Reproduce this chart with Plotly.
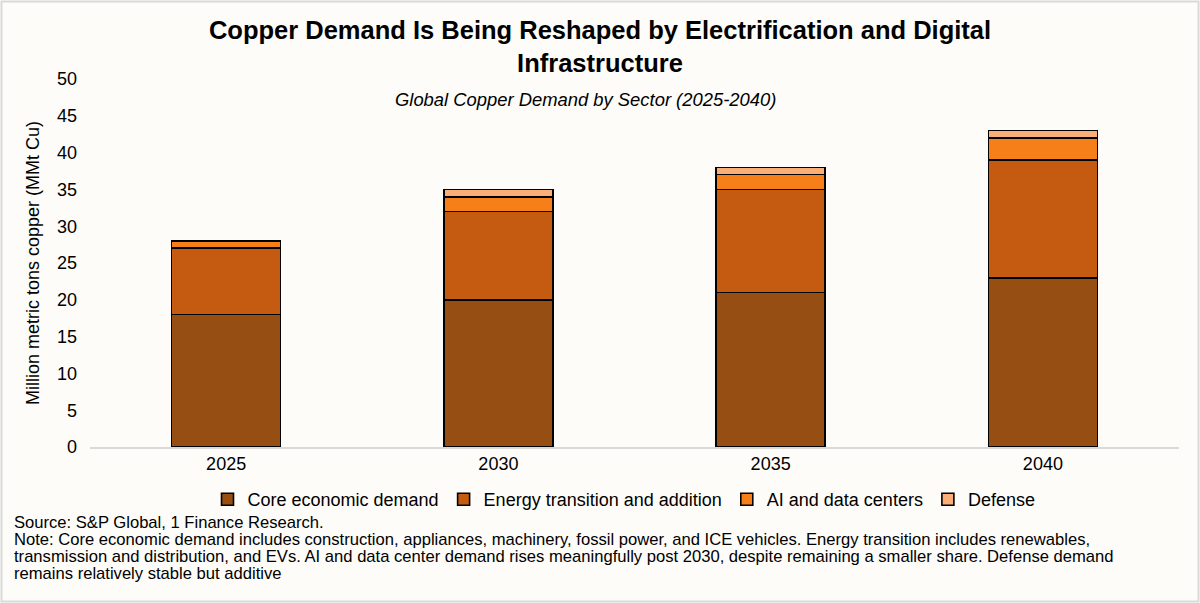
import plotly.graph_objects as go

YEARS = ["2025", "2030", "2035", "2040"]
CORE = [18, 20, 21, 23]
ENERGY = [9, 12, 14, 16]
AI_DC = [1, 2, 2, 3]
DEFENSE = [0, 1, 1, 1]

SERIES = [
    ("Core economic demand", CORE, "#974E13"),
    ("Energy transition and addition", ENERGY, "#C55A11"),
    ("AI and data centers", AI_DC, "#F77F1A"),
    ("Defense", DEFENSE, "#FBAE78"),
]

NOTE_LINES = [
    "Source: S&P Global, 1 Finance Research.",
    "Note: Core economic demand includes construction, appliances, machinery, fossil power, and ICE vehicles. "
    "Energy transition includes renewables,",
    "transmission and distribution, and EVs. AI and data center demand rises meaningfully post 2030, "
    "despite remaining a smaller share. Defense demand",
    "remains relatively stable but additive",
]

BG = "#FDFCF8"
W, H = 1200, 603
L, R, T, B = 90, 21, 79, 156
PW, PH = W - L - R, H - T - B


def px(x):  # figure pixel -> paper x
    return (x - L) / PW


def py(y):  # figure pixel (from top) -> paper y
    return (H - B - y) / PH


fig = go.Figure()
for name, vals, col in SERIES:
    fig.add_trace(go.Bar(
        x=YEARS, y=vals, name=name,
        marker=dict(color=col, line=dict(color="#000000", width=1.6))))

fig.update_layout(
    width=W, height=H, barmode="stack", bargap=0.6,
    paper_bgcolor=BG, plot_bgcolor=BG,
    font=dict(family="Liberation Sans, Arial, sans-serif", color="#000000", size=16),
    margin=dict(l=L, r=R, t=T, b=B),
    title=dict(text="<b>Copper Demand Is Being Reshaped by Electrification and Digital<br>Infrastructure</b>",
               x=0.5, xanchor="center", y=1 - 39 / H, yanchor="middle",
               font=dict(size=25.5, color="#000000")),
    xaxis=dict(showgrid=False, showline=True, linecolor="#D9D9D9", linewidth=1.5,
               ticks="", tickfont=dict(size=18), range=[-0.5, 3.5]),
    yaxis=dict(range=[0, 50], dtick=5, showgrid=False, zeroline=False, showline=False,
               tickfont=dict(size=18), ticklabelstandoff=12,
               title=dict(text="Million metric tons copper (MMt Cu)", font=dict(size=18), standoff=12)),
    legend=dict(orientation="h", x=px(624), xanchor="center", y=py(481), yanchor="top",
                font=dict(size=18), bgcolor="rgba(0,0,0,0)", traceorder="normal"),
    showlegend=True,
)

fig.add_annotation(text="<i>Global Copper Demand by Sector (2025-2040)</i>", xref="paper", yref="paper",
                   x=px(585), y=py(99), xanchor="center", yanchor="middle", showarrow=False,
                   font=dict(size=18.4))
for line, ymid in zip(NOTE_LINES, [522, 539.5, 556.5, 573.5]):
    fig.add_annotation(text=line, xref="paper", yref="paper", x=px(12), y=py(ymid),
                       xanchor="left", yanchor="middle", align="left", showarrow=False,
                       font=dict(size=16.6))
fig.add_shape(type="rect", xref="paper", yref="paper",
              x0=px(1.5), x1=px(W - 1.5), y0=py(H - 1.5), y1=py(1.5),
              line=dict(color="#D9D9D9", width=2), fillcolor="rgba(0,0,0,0)", layer="below")

fig.write_html("out.html", config={"displayModeBar": False},
               post_script="document.body.style.margin='0';")
